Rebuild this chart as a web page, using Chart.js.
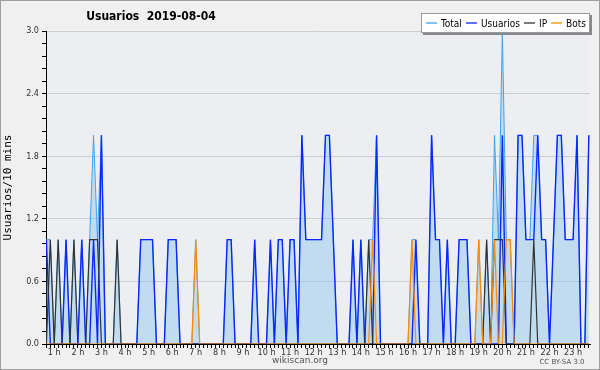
<!DOCTYPE html>
<html><head><meta charset="utf-8">
<script src="https://cdn.jsdelivr.net/npm/chart.js@4.4.1/dist/chart.umd.min.js"></script>
<style>html,body{margin:0;padding:0;background:#f0f0f0}canvas{display:block}</style>
</head><body>
<canvas id="c" width="600" height="370"></canvas>
<script>
const chartTitle = 'Usuarios  2019-08-04';
const yAxisTitle = 'Usuarios/10 mins';
const seriesNames = ['Total', 'Usuarios', 'IP', 'Bots'];
const hourLabels = ['1 h','2 h','3 h','4 h','5 h','6 h','7 h','8 h','9 h','10 h','11 h','12 h',
  '13 h','14 h','15 h','16 h','17 h','18 h','19 h','20 h','21 h','22 h','23 h'];
const yTickLabels = ['0.0','0.6','1.2','1.8','2.4','3.0'];

const totalValues = [
  1,1,0,1,0,1,0,1,0,1,
  0,1,2,1,2,0,0,0,1,0,
  0,0,0,0,1,1,1,1,0,0,
  0,1,1,1,0,0,0,0,1,0,
  0,0,0,0,0,0,1,1,0,0,
  0,0,0,1,0,0,0,1,0,1,
  1,0,1,1,0,2,1,1,1,1,
  1,2,2,1,0,0,0,0,1,0,
  1,0,1,1,2,0,0,0,0,0,
  0,0,0,1,1,0,0,0,2,1,
  1,0,1,0,0,1,1,1,0,0,
  1,0,1,0,2,1,3,1,1,0,
  2,2,1,1,2,2,1,1,0,1,
  2,2,1,1,1,2,0,0,2];
const userValues = [
  1,0,0,0,0,1,0,0,0,1,
  0,0,1,0,2,0,0,0,0,0,
  0,0,0,0,1,1,1,1,0,0,
  0,1,1,1,0,0,0,0,0,0,
  0,0,0,0,0,0,1,1,0,0,
  0,0,0,1,0,0,0,1,0,1,
  1,0,1,1,0,2,1,1,1,1,
  1,2,2,1,0,0,0,0,1,0,
  1,0,0,0,2,0,0,0,0,0,
  0,0,0,0,1,0,0,0,2,1,
  1,0,1,0,0,1,1,1,0,0,
  0,0,0,0,0,0,2,0,0,0,
  2,2,1,1,1,2,1,1,0,1,
  2,2,1,1,1,2,0,0,2];
const ipValues = [
  0,1,0,1,0,0,0,1,0,0,
  0,1,1,1,0,0,0,0,1,0,
  0,0,0,0,0,0,0,0,0,0,
  0,0,0,0,0,0,0,0,0,0,
  0,0,0,0,0,0,0,0,0,0,
  0,0,0,0,0,0,0,0,0,0,
  0,0,0,0,0,0,0,0,0,0,
  0,0,0,0,0,0,0,0,0,0,
  0,0,1,0,0,0,0,0,0,0,
  0,0,0,0,0,0,0,0,0,0,
  0,0,0,0,0,0,0,0,0,0,
  0,0,1,0,1,1,1,0,0,0,
  0,0,0,0,1,0,0,0,0,0,
  0,0,0,0,0,0,0,0,0];
const botValues = [
  0,0,0,0,0,0,0,0,0,0,
  0,0,0,0,0,0,0,0,0,0,
  0,0,0,0,0,0,0,0,0,0,
  0,0,0,0,0,0,0,0,1,0,
  0,0,0,0,0,0,0,0,0,0,
  0,0,0,0,0,0,0,0,0,0,
  0,0,0,0,0,0,0,0,0,0,
  0,0,0,0,0,0,0,0,0,0,
  0,0,0,1,0,0,0,0,0,0,
  0,0,0,1,0,0,0,0,0,0,
  0,0,0,0,0,0,0,0,0,0,
  1,0,0,0,1,0,0,1,1,0,
  0,0,0,0,0,0,0,0,0,0,
  0,0,0,0,0,0,0,0,0];

const slots = totalValues.map((_, i) => i);
const colors = ['#40a4f0', '#0a28ff', '#333333', '#ff8c00'];

const bgPlugin = {
  id: 'bg',
  beforeDraw(chart) {
    const { ctx, chartArea: a, width, height } = chart;
    ctx.save();
    ctx.fillStyle = '#f0f0f0';
    ctx.fillRect(0, 0, width, height);
    ctx.strokeStyle = '#a0a0a0';
    ctx.lineWidth = 1;
    ctx.strokeRect(0.5, 0.5, width - 1, height - 1);
    ctx.fillStyle = '#eceef1';
    ctx.fillRect(a.left, a.top, a.right - a.left, a.bottom - a.top);
    ctx.restore();
  }
};

const overlayPlugin = {
  id: 'overlay',
  afterDraw(chart) {
    const { ctx } = chart;
    ctx.save();
    // title
    ctx.fillStyle = '#000';
    ctx.font = 'bold 12px "DejaVu Sans Condensed", "DejaVu Sans"';
    ctx.textAlign = 'center';
    ctx.textBaseline = 'middle';
    ctx.fillText(chartTitle, 151, 17);
    // legend
    ctx.font = '10px "DejaVu Sans Condensed", "DejaVu Sans"';
    const bx = 421, by = 13, bw = 169, bh = 20;
    ctx.fillStyle = '#888';
    ctx.fillRect(bx + 2, by + 2, bw, bh);
    ctx.fillStyle = '#fff';
    ctx.fillRect(bx, by, bw, bh);
    ctx.strokeStyle = '#999';
    ctx.lineWidth = 1;
    ctx.strokeRect(bx + 0.5, by + 0.5, bw - 1, bh - 1);
    let x = bx + 5;
    const ly = by + 10;
    chart.data.datasets.forEach((ds, i) => {
      ctx.strokeStyle = colors[i];
      ctx.lineWidth = 1.3;
      ctx.beginPath();
      ctx.moveTo(Math.round(x), ly);
      ctx.lineTo(Math.round(x) + 11, ly);
      ctx.stroke();
      x += 15;
      ctx.fillStyle = '#000';
      ctx.textAlign = 'left';
      ctx.fillText(ds.label, Math.round(x), ly + 1);
      x += ctx.measureText(ds.label).width + 4;
    });
    // footer
    ctx.fillStyle = '#555';
    ctx.font = '9px "DejaVu Sans"';
    ctx.textAlign = 'center';
    ctx.fillText('wikiscan.org', 300, 361);
    ctx.font = '7px "DejaVu Sans"';
    ctx.fillText('CC BY-SA 3.0', 562, 362);
    ctx.restore();
  }
};

new Chart(document.getElementById('c'), {
  type: 'line',
  data: {
    labels: slots,
    datasets: [
      { label: seriesNames[0], data: totalValues, borderColor: colors[0], backgroundColor: 'rgba(135,195,235,0.42)',
        fill: 'origin', borderWidth: 1, pointRadius: 0, tension: 0, order: 4 },
      { label: seriesNames[1], data: userValues, borderColor: colors[1], borderWidth: 1.4,
        fill: false, pointRadius: 0, tension: 0, order: 3 },
      { label: seriesNames[2], data: ipValues, borderColor: colors[2], borderWidth: 1.2,
        fill: false, pointRadius: 0, tension: 0, order: 2 },
      { label: seriesNames[3], data: botValues, borderColor: colors[3], borderWidth: 1.2,
        fill: false, pointRadius: 0, tension: 0, order: 1 }
    ]
  },
  options: {
    responsive: false,
    animation: false,
    devicePixelRatio: 1,
    layout: { padding: { left: 0, top: 31, right: 10, bottom: 0 } },
    plugins: { legend: { display: false }, title: { display: false }, tooltip: { enabled: false } },
    scales: {
      x: {
        type: 'linear', min: -0.1, max: 138.3,
        afterFit(s) { s.height = 26; },
        afterBuildTicks(s) { s.ticks = slots.map(v => ({ value: v })); },
        ticks: {
          autoSkip: false, maxRotation: 0, minRotation: 0, padding: -1,
          color: '#333', font: { family: '"DejaVu Sans Condensed", "DejaVu Sans"', size: 9 },
          callback(v) { return (v + 4) % 6 === 0 ? hourLabels[(v + 4) / 6 - 1] : ''; }
        },
        grid: { drawOnChartArea: false, drawTicks: true, tickLength: 4, tickColor: '#000' },
        border: { display: true, color: '#000', width: 1 }
      },
      y: {
        min: 0, max: 3,
        afterFit(s) { s.width = 46; },
        afterBuildTicks(s) {
          const t = [];
          for (let i = 0; i <= 25; i++) t.push({ value: i * 0.12 });
          s.ticks = t;
        },
        ticks: {
          autoSkip: false, padding: 3, color: '#333',
          font: { family: '"DejaVu Sans Condensed", "DejaVu Sans"', size: 9 },
          callback(v, i) { return i % 5 === 0 ? yTickLabels[i / 5] : ''; }
        },
        grid: {
          color(c) { return c.index % 5 === 0 ? '#cdcdcd' : 'rgba(0,0,0,0)'; },
          tickColor: '#000', drawTicks: true, tickLength: 4
        },
        border: { display: true, color: '#000', width: 1 },
        title: { display: true, text: yAxisTitle, color: '#000',
          font: { family: '"DejaVu Sans Mono"', size: 11 }, padding: { top: 2, bottom: 0 } }
      }
    }
  },
  plugins: [bgPlugin, overlayPlugin]
});
</script>
</body></html>
